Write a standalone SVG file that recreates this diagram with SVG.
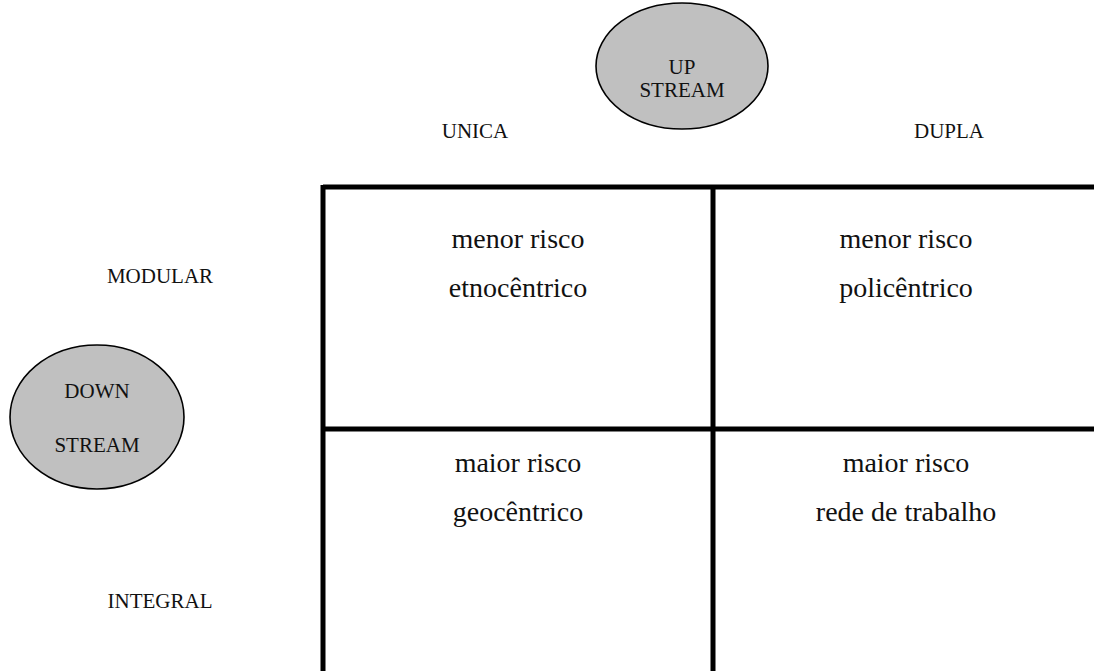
<svg xmlns="http://www.w3.org/2000/svg" width="1094" height="671" viewBox="0 0 1094 671">
  <style>
    .bubble { fill: #c0c0c0; stroke: #000; stroke-width: 1.6; }
    .lbl { font-family: "Liberation Serif", "Times New Roman", serif; font-size: 21px; fill: #111; text-anchor: middle; }
    .cell { font-family: "Liberation Serif", "Times New Roman", serif; font-size: 28px; fill: #111; text-anchor: middle; }
    .grid { stroke: #000; stroke-width: 5; fill: none; }
  </style>
  <rect width="1094" height="671" fill="#fff"/>

  <g id="upstream">
    <ellipse class="bubble" cx="682" cy="66" rx="86" ry="63"/>
    <text class="lbl" x="682" y="74">UP</text>
    <text class="lbl" x="682" y="97">STREAM</text>
  </g>

  <g id="downstream">
    <ellipse class="bubble" cx="97" cy="417" rx="87" ry="72"/>
    <text class="lbl" x="97" y="398">DOWN</text>
    <text class="lbl" x="97" y="452">STREAM</text>
  </g>

  <g id="axis-labels">
    <text class="lbl" x="475" y="138">UNICA</text>
    <text class="lbl" x="949" y="138">DUPLA</text>
    <text class="lbl" x="160" y="283">MODULAR</text>
    <text class="lbl" x="160" y="608">INTEGRAL</text>
  </g>

  <g id="connectors">
    <line class="grid" x1="323" y1="187" x2="1094" y2="187"/>
    <line class="grid" x1="323" y1="429" x2="1094" y2="429"/>
    <line class="grid" x1="323" y1="185" x2="323" y2="671"/>
    <line class="grid" x1="713" y1="185" x2="713" y2="671"/>
  </g>

  <g id="cell-unica-modular">
    <text class="cell" x="518" y="248">menor risco</text>
    <text class="cell" x="518" y="297">etnocêntrico</text>
  </g>
  <g id="cell-dupla-modular">
    <text class="cell" x="906" y="248">menor risco</text>
    <text class="cell" x="906" y="297">policêntrico</text>
  </g>
  <g id="cell-unica-integral">
    <text class="cell" x="518" y="472">maior risco</text>
    <text class="cell" x="518" y="521">geocêntrico</text>
  </g>
  <g id="cell-dupla-integral">
    <text class="cell" x="906" y="472">maior risco</text>
    <text class="cell" x="906" y="521">rede de trabalho</text>
  </g>
</svg>
